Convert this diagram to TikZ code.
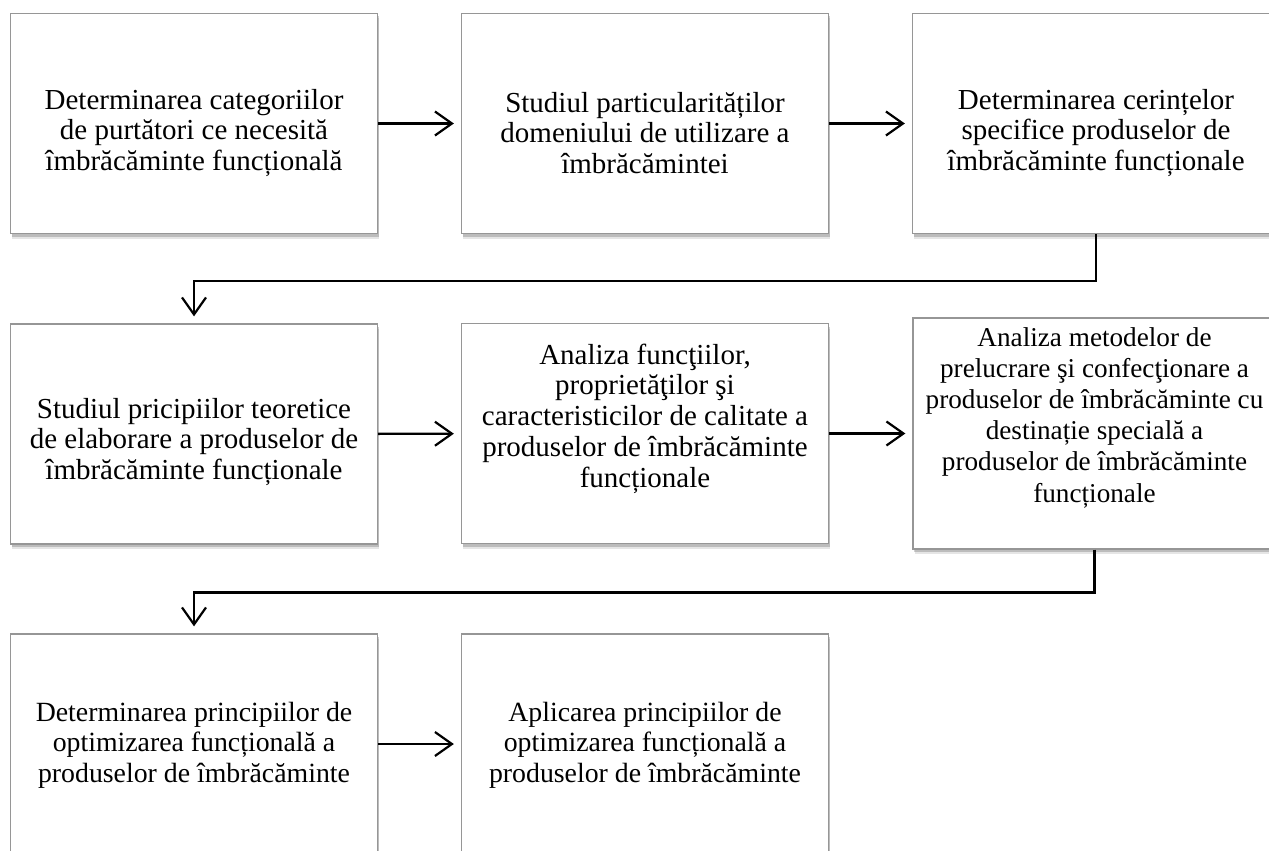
\documentclass[tikz,border=0pt]{standalone}
\usepackage{fontspec}
\setmainfont{Liberation Serif}
\usetikzlibrary{arrows.meta,shadows}
\definecolor{boxline}{RGB}{150,150,150}
\tikzset{
  stepbox/.style={draw=boxline, line width=1.3pt, fill=white,
    minimum width=367pt, minimum height=220pt, inner sep=0pt,
    drop shadow={shadow xshift=1.5pt, shadow yshift=-5pt, fill=black, opacity=0.10},
    drop shadow={shadow xshift=1pt, shadow yshift=-3pt, fill=black, opacity=0.18}},
  steptext/.style={align=center, inner sep=0pt, font=\fontsize{29}{30.5}\selectfont},
  conn/.style={line width=2.4pt, -{Straight Barb[length=17pt,width=24pt,line width=2.2pt]}, shorten >=7pt}
}
\begin{document}
\begin{tikzpicture}[x=1pt,y=-1pt]
\useasboundingbox (0,0) rectangle (1269,851);
\clip (0,0) rectangle (1269,851);
% boxes
\node[stepbox] (b1) at (194,123.5) {};
\node[stepbox] (b2) at (645,123.5) {};
\node[stepbox] (b3) at (1096,123.5) {};
\node[stepbox] (b4) at (194,434) {};
\node[stepbox] (b5) at (645,433.5) {};
\node[stepbox, minimum height=231pt, minimum width=363pt] (b6) at (1094.5,433.5) {};
\node[stepbox] (b7) at (194,744) {};
\node[stepbox] (b8) at (645,744) {};
% texts
\node[steptext] (t1) at (194,133) {Determinarea categoriilor\\de purtători ce necesită\\îmbrăcăminte funcțională};
\node[steptext] (t2) at (645,133) {Studiul particularităților\\domeniului de utilizare a\\îmbrăcămintei};
\node[steptext] (t3) at (1096,133) {Determinarea cerințelor\\specifice produselor de\\îmbrăcăminte funcționale};
\node[steptext] (t4) at (194,442) {Studiul pricipiilor teoretice\\de elaborare a produselor de\\îmbrăcăminte funcționale};
\node[steptext, font=\fontsize{29}{30.75}\selectfont] (t5) at (645,418.5) {Analiza funcţiilor,\\proprietăţilor şi\\caracteristicilor de calitate a\\produselor de îmbrăcăminte\\funcționale};
\node[steptext, font=\fontsize{27.2}{31.2}\selectfont] (t6) at (1094.5,417.5) {Analiza metodelor de\\prelucrare şi confecţionare a\\produselor de îmbrăcăminte cu\\destinație specială a\\produselor de îmbrăcăminte\\funcționale};
\node[steptext, font=\fontsize{27.8}{30.5}\selectfont] (t7) at (194,745) {Determinarea principiilor de\\optimizarea funcțională a\\produselor de îmbrăcăminte};
\node[steptext, font=\fontsize{27.8}{30.5}\selectfont] (t8) at (645,745) {Aplicarea principiilor de\\optimizarea funcțională a\\produselor de îmbrăcăminte};
% connectors
\draw[conn] (b1) -- (b2);
\draw[conn] (b2) -- (b3);
\draw[conn] (b4) -- (b5);
\draw[conn] (b5.east) -- (b6.west |- b5.east);
\draw[conn] (b7) -- (b8);
\draw[conn] (b3.south) -- ++(0,47) -| (b4.north);
\draw[conn] (b6.south) -- ++(0,43) -| (b7.north);
\end{tikzpicture}
\end{document}
